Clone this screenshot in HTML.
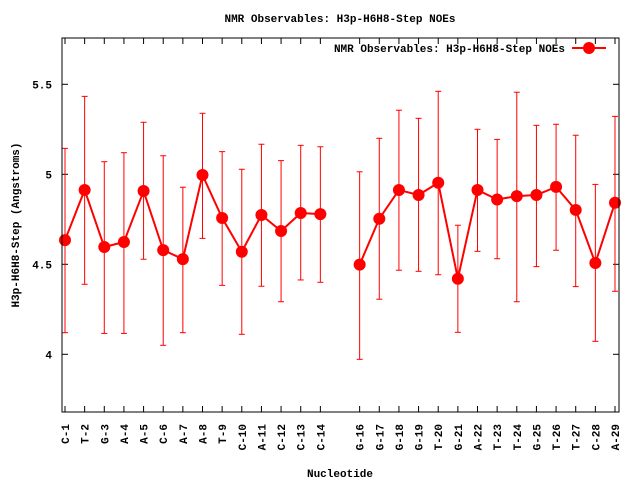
<!DOCTYPE html>
<html><head><meta charset="utf-8"><style>
body{margin:0;background:#fff}
svg text{font-family:"Liberation Mono","DejaVu Sans Mono",monospace;font-weight:bold;font-size:11px;fill:#000}
</style></head><body>
<svg id="chart" width="640" height="480" xmlns="http://www.w3.org/2000/svg">
<rect width="640" height="480" fill="#fff"/>
<text x="340" y="22" text-anchor="middle">NMR Observables: H3p-H6H8-Step NOEs</text>
<text transform="translate(19,225) rotate(-90)" text-anchor="middle">H3p-H6H8-Step (Angstroms)</text>
<text x="340" y="477" text-anchor="middle">Nucleotide</text>
<g id="grid"></g>
<g id="marks"></g>
<rect x="62" y="38" width="557" height="374" fill="none" stroke="#000" stroke-width="1"/>
<g>
<text x="565" y="52" text-anchor="end">NMR Observables: H3p-H6H8-Step NOEs</text>
<line x1="572" y1="48" x2="606" y2="48" stroke="#f00" stroke-width="2"/>
<circle cx="589" cy="48" r="6" fill="#f00"/>
</g>
</svg>
<script>
const idx=[1,2,3,4,5,6,7,8,9,10,11,12,13,14,16,17,18,19,20,21,22,23,24,25,26,27,28,29];
const labels=["C-1","T-2","G-3","A-4","A-5","C-6","A-7","A-8","T-9","C-10","A-11","C-12","C-13","C-14","G-16","G-17","G-18","G-19","T-20","G-21","A-22","T-23","T-24","G-25","T-26","T-27","C-28","A-29"];
const vals=[4.634,4.913,4.596,4.624,4.907,4.579,4.529,4.996,4.757,4.57,4.774,4.685,4.785,4.779,4.498,4.753,4.913,4.885,4.953,4.42,4.913,4.86,4.879,4.885,4.93,4.802,4.507,4.842];
const hi=[5.144,5.433,5.07,5.12,5.289,5.103,4.928,5.339,5.126,5.028,5.167,5.076,5.161,5.153,5.014,5.2,5.356,5.311,5.461,4.717,5.25,5.194,5.456,5.272,5.278,5.217,4.944,5.322];
const lo=[4.12,4.389,4.116,4.116,4.528,4.05,4.12,4.644,4.383,4.111,4.378,4.292,4.413,4.4,3.972,4.306,4.467,4.461,4.442,4.122,4.572,4.531,4.292,4.487,4.578,4.376,4.072,4.35];
const yTicks=[4,4.5,5,5.5];
const yTickLabels=["4","4.5","5","5.5"];
const NS="http://www.w3.org/2000/svg";
const X=i=>65+(i-1)*550/28;
const Y=v=>174.3-(v-5)*180;
function mk(tag,attrs,parent){const e=document.createElementNS(NS,tag);for(const k in attrs)e.setAttribute(k,attrs[k]);parent.appendChild(e);return e;}
const grid=document.getElementById('grid'),marks=document.getElementById('marks');
yTicks.forEach((t,k)=>{
  const y=Y(t);
  const a=mk('line',{x1:62,y1:y,x2:68,y2:y,stroke:'#000'},grid);
  
  
  const b=mk('line',{x1:613,y1:y,x2:619,y2:y,stroke:'#000'},grid);
  
  
  const tx=mk('text',{x:52,y:y+4,'text-anchor':'end'},grid);
  tx.textContent=yTickLabels[k];
  
  
});
idx.forEach((i,k)=>{
  const x=X(i);
  const a=mk('line',{x1:x,y1:412,x2:x,y2:406,stroke:'#000'},grid);
  
  
  const b=mk('line',{x1:x,y1:38,x2:x,y2:44,stroke:'#000'},grid);
  
  
  const tx=mk('text',{transform:`translate(${x+4},424) rotate(-90)`,'text-anchor':'end'},grid);
  tx.textContent=labels[k];
  
  
});
// error bars
idx.forEach((i,k)=>{
  const x=X(i);
  const g=mk('g',{stroke:'#f00','stroke-width':1},marks);
  
  
  mk('line',{x1:x,y1:Y(hi[k]),x2:x,y2:Y(lo[k])},g);
  mk('line',{x1:x-3,y1:Y(hi[k]),x2:x+3,y2:Y(hi[k])},g);
  mk('line',{x1:x-3,y1:Y(lo[k]),x2:x+3,y2:Y(lo[k])},g);
});
// lines with gap
let segs=[],cur=[];
idx.forEach((i,k)=>{if(k>0&&i-idx[k-1]>1){segs.push(cur);cur=[];}cur.push(X(i)+','+Y(vals[k]));});
segs.push(cur);
segs.forEach(s=>{
  const p=mk('polyline',{points:s.join(' '),fill:'none',stroke:'#f00','stroke-width':2},marks);
  
  
});
idx.forEach((i,k)=>{
  const c=mk('circle',{cx:X(i),cy:Y(vals[k]),r:6,fill:'#f00'},marks);
  
  
});
</script>
</body></html>
